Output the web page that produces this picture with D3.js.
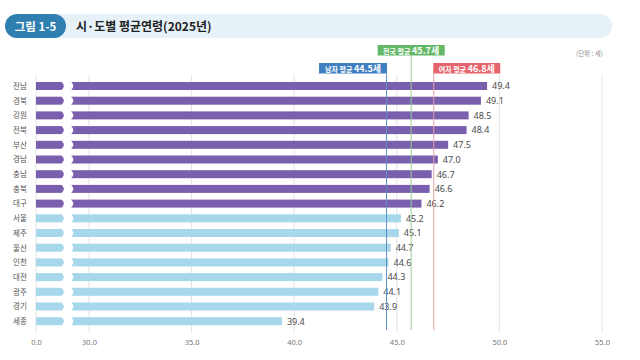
<!DOCTYPE html>
<html><head><meta charset="utf-8">
<script src="https://cdn.jsdelivr.net/npm/d3@7/dist/d3.min.js"></script>
<style>body{margin:0;background:#fff}svg{display:block;font-family:"Noto Sans CJK KR","Noto Sans",sans-serif}</style>
</head><body><svg id="c" width="640" height="360"></svg>
<script>
const regions = ["전남","경북","강원","전북","부산","경남","충남","충북","대구","서울","제주","울산","인천","대전","광주","경기","세종"];
const ages = [49.4,49.1,48.5,48.4,47.5,47.0,46.7,46.6,46.2,45.2,45.1,44.7,44.6,44.3,44.1,43.9,39.4];
const groups = ["high","high","high","high","high","high","high","high","high","low","low","low","low","low","low","low","low"];
const tickValues = [0,30,35,40,45,50,55];
const refNames = ["남자 평균 ","전국 평균 ","여자 평균 "];
const refValues = [44.5,45.7,46.8];
const refKeys = ["male","all","female"];

const svg = d3.select("#c");
const x = d3.scaleLinear().domain([0,30,55]).range([36,89,602]);
const y = d3.scaleBand().domain(regions).range([78.65,328.55]).paddingInner(0.456).paddingOuter(0.228);
const color = d3.scaleOrdinal().domain(["high","low"]).range(["#7a5fae","#a6d7ea"]);
const refColor = d3.scaleOrdinal().domain(refKeys).range(["#3f7fc2","#64b767","#e5646b"]);
const refLine = d3.scaleOrdinal().domain(refKeys).range(["#5d8fc6","#9ccc98","#e7a3a6"]);

// title banner
svg.append("rect").attr("x",5).attr("y",14).attr("width",607).attr("height",24).attr("rx",12).attr("fill","#e6f2f8");
svg.append("rect").attr("x",5).attr("y",14).attr("width",61).attr("height",24).attr("rx",12).attr("fill","#2f7fb0");
svg.append("text").attr("x",35.5).attr("y",30.5).attr("text-anchor","middle").attr("fill","#fff")
  .attr("font-size",11.5).attr("font-weight","bold").text("그림 1-5");
svg.append("text").attr("x",76).attr("y",30.5).attr("fill","#222").attr("font-size",12).attr("font-weight","bold")
  .text("시·도별 평균연령(2025년)");
svg.append("text").attr("x",603).attr("y",56).attr("text-anchor","end").attr("fill","#888").attr("font-size",6.5).text("(단위 : 세)");

// gridlines
svg.append("g").selectAll("line").data(tickValues).join("line")
  .attr("x1",d=>x(d)).attr("x2",d=>x(d)).attr("y1",75).attr("y2",332)
  .attr("stroke","#e2e2e2").attr("stroke-width",1);

// axis
const axis = d3.axisBottom(x).tickValues(tickValues).tickFormat(d3.format(".1f")).tickSize(0).tickPadding(0);
const ag = svg.append("g").attr("transform","translate(0,340)").call(axis);
ag.select(".domain").remove();
ag.selectAll("text").attr("font-size",7.5).attr("fill","#777").attr("font-family","Noto Sans, sans-serif");

// bars
svg.append("g").selectAll("rect").data(regions).join("rect")
  .attr("x",x(0)).attr("y",d=>y(d)).attr("height",y.bandwidth())
  .attr("width",(d,i)=>x(ages[i])-x(0)).attr("fill",(d,i)=>color(groups[i]));

// axis break band (wavy)
const y0 = 77, y1 = 331, step = y.step();
const pts = d3.range(y0, y1+0.5, 0.5);
const wave = v => Math.cos((v - y(regions[0]) - y.bandwidth()/2) / step * 2 * Math.PI) * 1.8;
const leftEdge = pts.map(v => [62 + wave(v), v]);
const rightEdge = pts.map(v => [71.5 + wave(v), v]).reverse();
svg.append("path").attr("d", d3.line()(leftEdge.concat(rightEdge)) + "Z").attr("fill","#fff");

// value labels
svg.append("g").selectAll("text").data(regions).join("text")
  .attr("x",(d,i)=>x(ages[i])+5).attr("y",d=>y(d)+y.bandwidth()/2+3.3)
  .attr("font-size",9).attr("fill","#4a4a4a").attr("font-family","Noto Sans, sans-serif")
  .text((d,i)=>ages[i].toFixed(1));

// region labels
svg.append("g").selectAll("text").data(regions).join("text")
  .attr("x",20).attr("y",d=>y(d)+y.bandwidth()/2+2.8).attr("text-anchor","middle")
  .attr("font-size",7.5).attr("fill","#555").text(d=>d);

// reference lines + labels
const boxTop = [63,45,63], boxH = 10.5;
const boxW = [68,67,67];
refKeys.forEach((k,i)=>{
  const xv = x(refValues[i]);
  svg.append("line").attr("x1",xv).attr("x2",xv).attr("y1",boxTop[i]+boxH).attr("y2",330)
    .attr("stroke",refLine(k)).attr("stroke-width",1);
  let bx;
  if(k==="male") bx = xv - boxW[i] + 0.5;
  else if(k==="all") bx = xv - boxW[i]/2;
  else bx = xv - 0.5;
  svg.append("rect").attr("x",bx).attr("y",boxTop[i]).attr("width",boxW[i]).attr("height",boxH).attr("fill",refColor(k));
  const t = svg.append("text").attr("x",bx+boxW[i]/2).attr("y",boxTop[i]+8.6).attr("text-anchor","middle")
    .attr("fill","#fff").attr("font-weight","bold");
  t.append("tspan").attr("font-size",7).text(refNames[i]);
  t.append("tspan").attr("font-size",9).text(refValues[i].toFixed(1)+"세");
});
</script></body></html>
